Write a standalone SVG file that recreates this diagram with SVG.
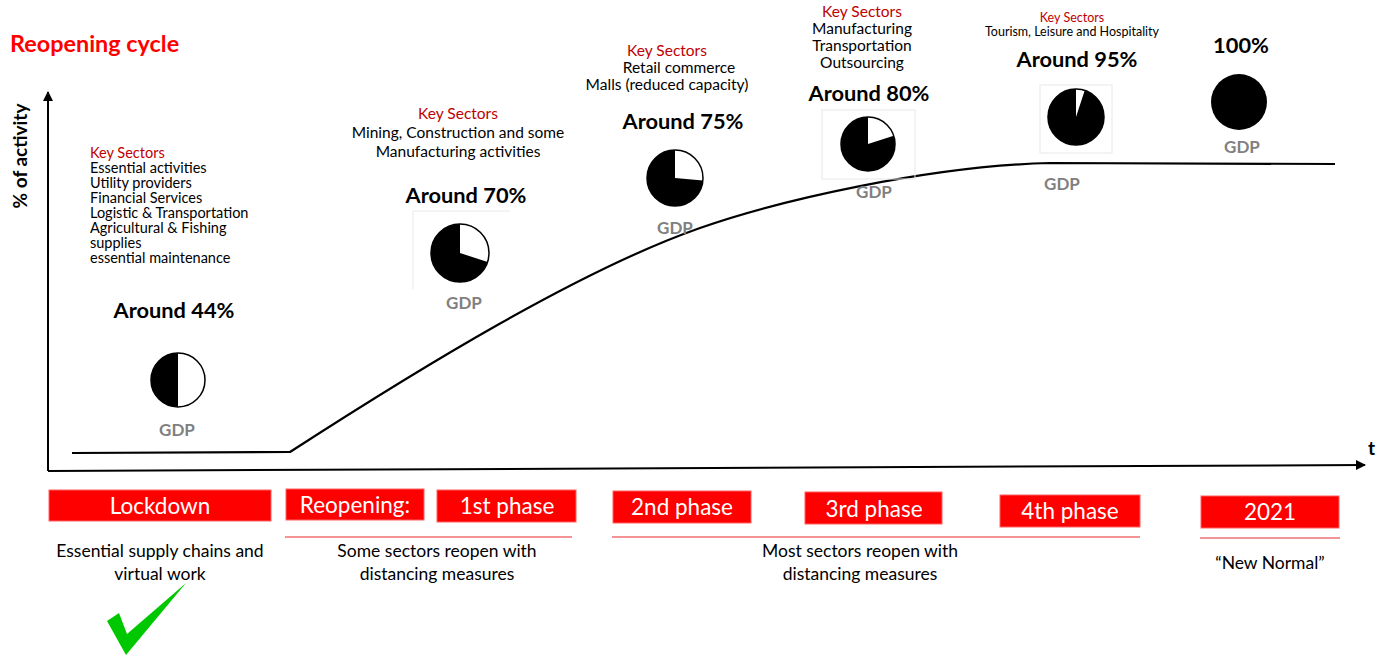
<svg xmlns="http://www.w3.org/2000/svg" width="1392" height="656" viewBox="0 0 1392 656">
  <defs>
    <style>
      text { font-family: Lato, "Open Sans", "Liberation Sans", sans-serif; }
      .title { font-size: 23.4px; font-weight: bold; fill: #ff0000; }
      .axis-label { font-size: 19px; font-weight: bold; fill: #000; }
      .key { font-size: 15.5px; fill: #c00000; }
      .sector { font-size: 15.5px; fill: #000; }
      .tight { font-size: 14.5px; }
      .small { font-size: 12.5px; }
      .red { fill: #c00000; }
      .pct { font-size: 21.8px; font-weight: bold; fill: #000; text-anchor: middle; }
      .gdp { font-size: 17px; font-weight: bold; fill: #808080; text-anchor: middle; }
      .phase-box { fill: #ff0000; stroke: #ff6060; stroke-width: 1; }
      .phase-text { font-size: 22.5px; fill: #fff; text-anchor: middle; }
      .note { font-size: 17.5px; fill: #000; text-anchor: middle; }
      .rule { stroke: #f07070; stroke-width: 1.3; }
      .pie-box { fill: none; stroke: #e8e8e8; stroke-width: 1; }
      .pie-bg { fill: #fff; stroke: #000; stroke-width: 1.5; }
      .pie-fill { fill: #000; }
      .mid { text-anchor: middle; }
    </style>
    <marker id="arrow" viewBox="0 0 10 10" refX="9" refY="5" markerWidth="5" markerHeight="5" orient="auto">
      <path d="M0,0 L10,5 L0,10 Z" fill="#000"/>
    </marker>
  </defs>

  <rect width="1392" height="656" fill="#fff"/>

  <text class="title" x="10" y="52">Reopening cycle</text>

  <!-- axes and activity curve -->
  <g id="connectors" fill="none" stroke="#000">
    <line x1="48" y1="471" x2="48" y2="92" stroke-width="2" marker-end="url(#arrow)"/>
    <line x1="48" y1="471" x2="1365" y2="465" stroke-width="2" marker-end="url(#arrow)"/>
    <path d="M72,453 L290,452 C420,368 580,270 700,228 C780,200 930,166 1050,163 L1335,164" stroke-width="2.2"/>
  </g>
  <text class="axis-label" transform="translate(27,156) rotate(-90)" text-anchor="middle">% of activity</text>
  <text class="axis-label" x="1368" y="455">t</text>

  <!-- lockdown stage: 44% -->
  <g id="stage-44">
    <text class="sector tight" x="90" y="158">
      <tspan class="red" x="90" y="158">Key Sectors</tspan>
      <tspan x="90" y="173">Essential activities</tspan>
      <tspan x="90" y="188">Utility providers</tspan>
      <tspan x="90" y="203">Financial Services</tspan>
      <tspan x="90" y="218">Logistic &amp; Transportation</tspan>
      <tspan x="90" y="233">Agricultural &amp; Fishing</tspan>
      <tspan x="90" y="248">supplies</tspan>
      <tspan x="90" y="263">essential maintenance</tspan>
    </text>
    <text class="pct" x="174" y="318">Around 44%</text>
    <circle class="pie-bg" cx="178" cy="380" r="27"/>
    <path class="pie-fill" d="M178,353 A27,27 0 0 0 178,407 Z"/>
    <text class="gdp" x="177" y="436">GDP</text>
  </g>

  <!-- phase 1: 70% -->
  <g id="stage-70">
    <text class="key mid" x="458" y="119">Key Sectors</text>
    <text class="sector mid" x="458" y="138">Mining, Construction and some</text>
    <text class="sector mid" x="458" y="157">Manufacturing activities</text>
    <text class="pct" x="466" y="203">Around 70%</text>
    <path class="pie-box" d="M413,289 L413,211 L510,211"/>
    <circle class="pie-bg" cx="460" cy="253" r="29"/>
    <path class="pie-fill" d="M460,253 L487.6,262 A29,29 0 1 1 460,224 Z"/>
    <text class="gdp" x="464" y="309">GDP</text>
  </g>

  <!-- phase 2: 75% -->
  <g id="stage-75">
    <text class="key mid" x="667" y="56">Key Sectors</text>
    <text class="sector mid" x="679" y="73">Retail commerce</text>
    <text class="sector mid" x="667" y="90">Malls (reduced capacity)</text>
    <text class="pct" x="683" y="129">Around 75%</text>
    <circle class="pie-bg" cx="675" cy="178" r="28"/>
    <path class="pie-fill" d="M675,178 L702.9,180.4 A28,28 0 1 1 675,150 Z"/>
    <text class="gdp" x="675" y="234">GDP</text>
  </g>

  <!-- phase 3: 80% -->
  <g id="stage-80">
    <text class="key mid" x="862" y="17">Key Sectors</text>
    <text class="sector mid" x="862" y="34">Manufacturing</text>
    <text class="sector mid" x="862" y="51">Transportation</text>
    <text class="sector mid" x="862" y="68">Outsourcing</text>
    <text class="pct" x="869" y="101">Around 80%</text>
    <rect class="pie-box" x="822" y="110" width="93" height="69"/>
    <circle class="pie-bg" cx="868" cy="144" r="27"/>
    <path class="pie-fill" d="M868,144 L893.7,135.7 A27,27 0 1 1 868,117 Z"/>
    <text class="gdp" x="874" y="198">GDP</text>
  </g>

  <!-- phase 4: 95% -->
  <g id="stage-95">
    <text class="key small mid" x="1072" y="22">Key Sectors</text>
    <text class="sector small mid" x="1072" y="36">Tourism, Leisure and Hospitality</text>
    <text class="pct" x="1077" y="67">Around 95%</text>
    <rect class="pie-box" x="1040" y="85" width="72" height="68"/>
    <circle class="pie-bg" cx="1076" cy="117" r="28"/>
    <path class="pie-fill" d="M1076,117 L1084.7,90.4 A28,28 0 1 1 1076,89 Z"/>
    <text class="gdp" x="1062" y="190">GDP</text>
  </g>

  <!-- 2021: 100% -->
  <g id="stage-100">
    <text class="pct" x="1241" y="53">100%</text>
    <circle class="pie-fill" cx="1239" cy="102" r="28"/>
    <text class="gdp" x="1242" y="153">GDP</text>
  </g>

  <!-- timeline phases -->
  <g id="phase-lockdown">
    <rect class="phase-box" x="49" y="490" width="222" height="31"/>
    <text class="phase-text" x="160" y="514">Lockdown</text>
    <text class="note" x="160" y="557">Essential supply chains and</text>
    <text class="note" x="160" y="580">virtual work</text>
    <path d="M107,621 L119,613 L127,634 L186,583 L126,655 Z" fill="#00c800"/>
  </g>

  <g id="phase-reopening">
    <rect class="phase-box" x="286" y="489" width="138" height="31"/>
    <text class="phase-text" x="355" y="513">Reopening:</text>
  </g>

  <g id="phase-1">
    <rect class="phase-box" x="437" y="490" width="139" height="32"/>
    <text class="phase-text" x="507" y="514">1st phase</text>
    <line class="rule" x1="285" y1="537" x2="572" y2="537"/>
    <text class="note" x="437" y="557">Some sectors reopen with</text>
    <text class="note" x="437" y="580">distancing measures</text>
  </g>

  <g id="phase-2">
    <rect class="phase-box" x="613" y="491" width="138" height="32"/>
    <text class="phase-text" x="682" y="515">2nd phase</text>
  </g>

  <g id="phase-3">
    <rect class="phase-box" x="805" y="492" width="137" height="32"/>
    <text class="phase-text" x="874" y="517">3rd phase</text>
  </g>

  <g id="phase-4">
    <rect class="phase-box" x="1000" y="495" width="140" height="32"/>
    <text class="phase-text" x="1070" y="519">4th phase</text>
    <line class="rule" x1="612" y1="537" x2="1140" y2="537"/>
    <text class="note" x="860" y="557">Most sectors reopen with</text>
    <text class="note" x="860" y="580">distancing measures</text>
  </g>

  <g id="phase-2021">
    <rect class="phase-box" x="1201" y="496" width="138" height="32"/>
    <text class="phase-text" x="1270" y="520">2021</text>
    <line class="rule" x1="1200" y1="538" x2="1340" y2="538"/>
    <text class="note" x="1270" y="569">“New Normal”</text>
  </g>
</svg>
